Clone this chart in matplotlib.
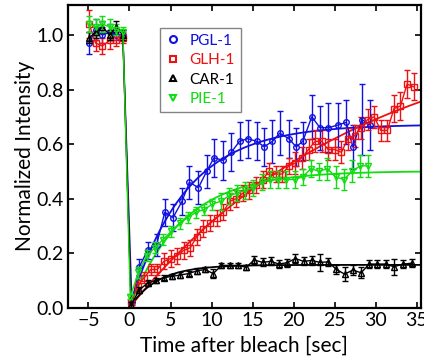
import numpy as np
import matplotlib
matplotlib.use("Agg")
import matplotlib.pyplot as plt
from matplotlib.lines import Line2D

plt.rcParams['font.family'] = ['Lato', 'DejaVu Sans']
plt.rcParams['font.size'] = 14

# pre-bleach samples (shared times)
t_pre = [-4.9, -4.1, -3.3, -2.4, -1.6, -0.8]

# PGL-1
pgl_pre = [0.97, 1.02, 1.00, 1.01, 1.00, 1.00]
pgl_pre_err = [0.04, 0.04, 0.03, 0.03, 0.02, 0.02]
pgl_t = [0.3, 1.2, 2.2, 3.3, 4.3, 5.3, 6.4, 7.3, 8.4, 9.4, 10.3, 11.4, 12.4, 13.4, 14.4,
         15.5, 16.4, 17.4, 18.3, 19.4, 20.3, 21.1, 22.2, 23.2, 24.2, 25.4, 26.4, 27.2, 28.3, 29.3]
pgl_v = [0.02, 0.15, 0.21, 0.23, 0.35, 0.33, 0.39, 0.46, 0.44, 0.50, 0.55, 0.54, 0.57, 0.61, 0.62,
         0.61, 0.59, 0.61, 0.64, 0.62, 0.59, 0.61, 0.70, 0.66, 0.66, 0.67, 0.68, 0.59, 0.69, 0.67]
pgl_err = [0.01, 0.03, 0.03, 0.04, 0.05, 0.05, 0.05, 0.06, 0.06, 0.06, 0.07, 0.07, 0.07, 0.07, 0.07,
           0.07, 0.07, 0.08, 0.08, 0.07, 0.07, 0.07, 0.08, 0.08, 0.09, 0.08, 0.08, 0.08, 0.13, 0.09]

# GLH-1
glh_pre = [1.04, 0.97, 0.96, 0.98, 0.98, 0.99]
glh_pre_err = [0.05, 0.03, 0.03, 0.03, 0.02, 0.02]
glh_t = [0.2, 1.0, 1.8, 2.6, 3.4, 4.2, 5.0, 5.8, 6.6, 7.4, 8.2, 9.0, 9.8, 10.6, 11.4,
         12.2, 13.0, 13.8, 14.6, 15.4, 16.2, 17.0, 17.8, 18.6, 19.4, 20.2, 21.0, 21.8, 22.6, 23.4,
         24.2, 25.0, 25.8, 26.6, 27.4, 28.2, 29.0, 29.8, 30.6, 31.4, 32.2, 33.0, 33.8, 34.6]
glh_v = [0.02, 0.08, 0.11, 0.14, 0.14, 0.17, 0.18, 0.19, 0.21, 0.22, 0.26, 0.29, 0.31, 0.33, 0.35,
         0.39, 0.40, 0.42, 0.43, 0.45, 0.47, 0.50, 0.49, 0.49, 0.52, 0.53, 0.55, 0.58, 0.61, 0.61,
         0.58, 0.58, 0.57, 0.62, 0.63, 0.66, 0.69, 0.70, 0.65, 0.65, 0.73, 0.74, 0.82, 0.81]
glh_err = [0.01, 0.02, 0.02, 0.02, 0.02, 0.03, 0.03, 0.03, 0.03, 0.03, 0.03, 0.03, 0.03, 0.03, 0.03,
           0.03, 0.03, 0.03, 0.03, 0.03, 0.03, 0.03, 0.03, 0.03, 0.03, 0.04, 0.04, 0.04, 0.04, 0.04,
           0.04, 0.04, 0.04, 0.04, 0.04, 0.04, 0.04, 0.04, 0.04, 0.04, 0.05, 0.05, 0.05, 0.05]

# CAR-1
car_pre = [0.99, 1.01, 1.03, 1.00, 1.03, 1.00]
car_pre_err = [0.02, 0.02, 0.02, 0.02, 0.02, 0.02]
car_t = [0.2, 1.2, 2.2, 3.2, 4.2, 5.2, 6.2, 7.2, 8.2, 9.2, 10.2, 11.2, 12.2, 13.2, 14.2,
         15.2, 16.2, 17.2, 18.2, 19.2, 20.2, 21.2, 22.2, 23.2, 24.2, 25.2, 26.2, 27.2, 28.2, 29.2,
         30.2, 31.2, 32.2, 33.3, 34.4]
car_v = [0.01, 0.065, 0.09, 0.10, 0.11, 0.115, 0.12, 0.125, 0.135, 0.14, 0.125, 0.155, 0.155, 0.155, 0.148,
         0.175, 0.166, 0.17, 0.16, 0.165, 0.18, 0.17, 0.173, 0.166, 0.168, 0.14, 0.123, 0.138, 0.128, 0.16,
         0.16, 0.16, 0.15, 0.16, 0.163]
car_err = [0.01, 0.01, 0.01, 0.01, 0.01, 0.01, 0.01, 0.01, 0.01, 0.01, 0.015, 0.01, 0.01, 0.01, 0.01,
           0.015, 0.015, 0.015, 0.015, 0.015, 0.015, 0.015, 0.015, 0.03, 0.015, 0.015, 0.025, 0.02, 0.02, 0.015,
           0.015, 0.015, 0.03, 0.015, 0.015]

# PIE-1
pie_pre = [1.04, 1.03, 1.04, 1.03, 1.02, 1.01]
pie_pre_err = [0.03, 0.03, 0.03, 0.03, 0.02, 0.02]
pie_t = [0.1, 1.1, 2.1, 3.1, 4.1, 5.1, 6.1, 7.1, 8.1, 9.1, 10.1, 11.1, 12.1, 13.1, 14.1,
         15.1, 16.1, 17.1, 18.1, 19.1, 20.1, 21.1, 22.1, 23.1, 24.1, 25.1, 26.1, 27.1, 28.1, 29.1]
pie_v = [0.04, 0.13, 0.19, 0.22, 0.25, 0.28, 0.31, 0.33, 0.35, 0.36, 0.38, 0.39, 0.41, 0.42, 0.43,
         0.44, 0.46, 0.47, 0.47, 0.47, 0.47, 0.48, 0.51, 0.50, 0.51, 0.48, 0.47, 0.50, 0.52, 0.52]
pie_err = [0.01, 0.02, 0.02, 0.02, 0.02, 0.02, 0.02, 0.02, 0.02, 0.02, 0.02, 0.03, 0.03, 0.03, 0.03,
           0.03, 0.03, 0.03, 0.03, 0.03, 0.03, 0.03, 0.03, 0.03, 0.04, 0.04, 0.04, 0.04, 0.04, 0.04]

labels = ['PGL-1', 'GLH-1', 'CAR-1', 'PIE-1']
colors = ['#1010e0', '#ee1111', '#000000', '#11dd11']
markers = ['o', 's', '^', 'v']


def fit_recovery(t, v):
    # single exponential recovery, amplitude by least squares for each tau
    t = np.asarray(t)
    v = np.asarray(v)
    best = None
    for tau in np.linspace(0.5, 80, 1600):
        f = 1 - np.exp(-t / tau)
        a = np.sum(v * f) / np.sum(f * f)
        r = np.sum((v - a * f) ** 2)
        if best is None or r < best[0]:
            best = (r, a, tau)
    return best[1], best[2]


fig = plt.figure(figsize=(4.24, 3.59), dpi=100)
ax = fig.add_axes([0.160, 0.143, 0.833, 0.843])

series = [
    (glh_pre, glh_pre_err, glh_t, glh_v, glh_err, 1),
    (pie_pre, pie_pre_err, pie_t, pie_v, pie_err, 3),
    (pgl_pre, pgl_pre_err, pgl_t, pgl_v, pgl_err, 0),
    (car_pre, car_pre_err, car_t, car_v, car_err, 2),
]

tf = np.linspace(0, 35.5, 300)
for pre, pre_err, t, v, err, i in series:
    a, tau = fit_recovery(t, v)
    ax.plot(tf, a * (1 - np.exp(-tf / tau)), color=colors[i], lw=1.3, zorder=2 + i * 0.1)
    ax.errorbar(t_pre + t, pre + v, yerr=pre_err + err, color=colors[i], marker=markers[i],
                mfc='none', mec=colors[i], ms=4, mew=1.0, lw=1.0, elinewidth=1.0,
                capsize=2.5, capthick=1.0, zorder=3 + i * 0.1)

ax.set_xlim(-7.5, 35.5)
ax.set_ylim(0, 1.11)
ax.set_xticks(range(-5, 36, 5))
ax.set_yticks([0.0, 0.2, 0.4, 0.6, 0.8, 1.0])
ax.set_yticklabels(['0.0', '0.2', '0.4', '0.6', '0.8', '1.0'])
ax.tick_params(direction='in', length=4, width=1.2, top=True, right=True, labelsize=14, pad=3)
for s in ax.spines.values():
    s.set_linewidth(1.6)

ax.set_xlabel('Time after bleach [sec]', fontsize=15, labelpad=5)
ax.set_ylabel('Normalized Intensity', fontsize=15, labelpad=1)

handles = [Line2D([], [], ls='none', marker=markers[i], mfc='none', mec=colors[i], ms=5, mew=1.5)
           for i in range(4)]
leg = ax.legend(handles, labels, loc='upper left', bbox_to_anchor=(0.262, 0.925), fontsize=11,
                frameon=True, fancybox=False, edgecolor='#666666', handlelength=0.8,
                handletextpad=0.7, borderpad=0.4, labelspacing=0.35, borderaxespad=0)
leg.get_frame().set_linewidth(1.0)
for txt, c in zip(leg.get_texts(), colors):
    txt.set_color(c)

fig.savefig('out.png', dpi=100)
